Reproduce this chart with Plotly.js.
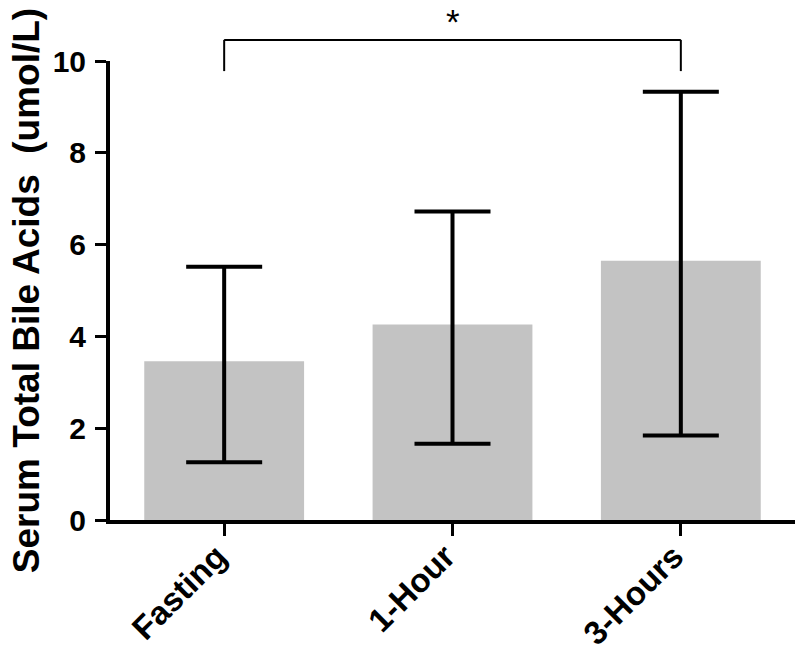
<!DOCTYPE html>
<html>
<head>
<meta charset="utf-8">
<script src="https://cdn.plot.ly/plotly-3.0.1.min.js"></script>
<style>html,body{margin:0;padding:0;background:#fff;}#chart{width:800px;height:655px;}</style>
</head>
<body>
<div id="chart"></div>
<script>
const categories = ["Fasting", "1-Hour", "3-Hours"];
const means = [3.46, 4.26, 5.65];
const upperBounds = [5.52, 6.72, 9.33];
const lowerBounds = [1.26, 1.66, 1.84];
const yTicks = [0, 2, 4, 6, 8, 10];
const sigLabel = "*";
const sigPair = [0, 2];

const errPlus = means.map((m, i) => upperBounds[i] - m);
const errMinus = means.map((m, i) => m - lowerBounds[i]);

const font = "Liberation Sans, Arial, sans-serif";

const trace = {
  type: "bar",
  x: categories,
  y: means,
  width: 0.7,
  marker: {color: "#c3c3c3", line: {width: 0}},
  error_y: {
    type: "data", symmetric: false,
    array: errPlus, arrayminus: errMinus,
    color: "#000", thickness: 4, width: 38
  },
  hoverinfo: "none"
};

const layout = {
  width: 800, height: 655,
  margin: {l: 110, r: 5, t: 61, b: 135},
  paper_bgcolor: "#fff", plot_bgcolor: "#fff",
  showlegend: false,
  font: {family: font, color: "#000"},
  xaxis: {
    type: "category",
    range: [-0.5, 2.5],
    showline: true, linewidth: 4, linecolor: "#000",
    ticks: "outside", ticklen: 12, tickwidth: 3, tickcolor: "#000",
    tickangle: -45, ticklabelstandoff: -12, ticklabelshift: -7,
    tickfont: {family: font, size: 33, color: "#000", weight: "bold"},
    showgrid: false, zeroline: false, fixedrange: true, automargin: false
  },
  yaxis: {
    range: [0, 10],
    tickvals: yTicks, ticktext: yTicks.map(String),
    showline: true, linewidth: 4, linecolor: "#000",
    ticks: "outside", ticklen: 11, tickwidth: 3, tickcolor: "#000",
    ticklabelstandoff: 3,
    tickfont: {family: font, size: 30, color: "#000", weight: "bold"},
    showgrid: false, zeroline: false, fixedrange: true, automargin: false,
    title: {text: "Serum Total Bile Acids\u00a0 (umol/L)", font: {family: font, size: 37, color: "#000", weight: "bold"}, standoff: 3}
  },
  annotations: [{
    text: sigLabel, x: (sigPair[0] + sigPair[1]) / 2, xref: "x",
    y: 1.132, yref: "paper", showarrow: false,
    xanchor: "center", yanchor: "top",
    font: {family: font, size: 35, color: "#000"}
  }]
};

// bracket via line shapes referencing the category axis
layout.shapes = [
  {type: "line", xref: "x", yref: "paper", x0: sigPair[0], x1: sigPair[0], y0: 0.978, y1: 1.046, line: {color: "#000", width: 2}},
  {type: "line", xref: "x", yref: "paper", x0: sigPair[0], x1: sigPair[1], y0: 1.046, y1: 1.046, line: {color: "#000", width: 2}},
  {type: "line", xref: "x", yref: "paper", x0: sigPair[1], x1: sigPair[1], y0: 0.978, y1: 1.046, line: {color: "#000", width: 2}}
];

Plotly.newPlot("chart", [trace], layout, {displayModeBar: false, staticPlot: true});
</script>
</body>
</html>
